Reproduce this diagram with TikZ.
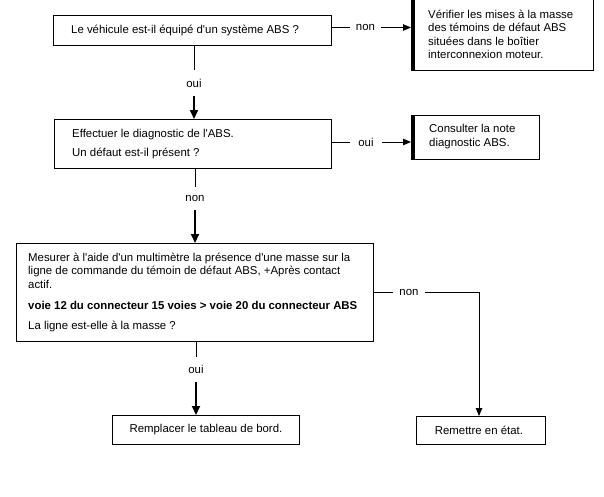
\documentclass[tikz,border=0pt]{standalone}
\usepackage{fontspec}
\setmainfont{Liberation Sans}[Ligatures=TeXOff]
\usetikzlibrary{arrows.meta}
\begin{document}
\begin{tikzpicture}[x=1pt,y=-1pt,
  every node/.style={font=\fontsize{11.4}{13.5}\selectfont},
  box/.style={draw, line width=0.9pt, inner sep=0pt, anchor=north west},
  txt/.style={anchor=west, align=left, inner sep=0pt},
  lab/.style={inner sep=0pt},
  thinline/.style={line width=0.9pt},
  thickarr/.style={line width=2pt, -{Triangle[length=9pt,width=8pt]}},
  thinarr/.style={line width=0.9pt, -{Triangle[length=8pt,width=6.5pt]}},
  sidebar/.style={line width=4pt}]
\useasboundingbox (0,0) rectangle (604,496);

% boxes
\node[box, minimum width=278pt, minimum height=30pt] (b1) at (53,15) {};
\node[txt] (t1) at ([xshift=18pt]b1.west) {Le véhicule est-il équipé d'un système ABS ?};

\node[box, minimum width=182pt, minimum height=72pt] (r1) at (411,-2) {};
\draw[sidebar] ([xshift=2pt]r1.north west) -- ([xshift=2pt]r1.south west);
\node[txt] (tr1) at ([xshift=17pt]r1.west) {Vérifier les mises à la masse\\des témoins de défaut ABS\\situées dans le boîtier\\interconnexion moteur.};

\node[box, minimum width=277pt, minimum height=49pt] (b2) at (54,119) {};
\node[txt] (t2) at ([xshift=18pt]b2.west) {Effectuer le diagnostic de l'ABS.\\[5.5pt]Un défaut est-il présent ?};

\node[box, minimum width=128pt, minimum height=44pt] (r2) at (411,115) {};
\draw[sidebar] ([xshift=2pt]r2.north west) -- ([xshift=2pt]r2.south west);
\node[txt] (tr2) at ([xshift=18pt,yshift=1pt]r2.west) {Consulter la note\\diagnostic ABS.};

\node[box, minimum width=357pt, minimum height=98pt] (b3) at (16,243) {};
\node[txt] (t3) at ([xshift=12pt]b3.west) {Mesurer à l'aide d'un multimètre la présence d'une masse sur la\\ligne de commande du témoin de défaut ABS, +Après contact\\actif.\\[8pt]\textbf{voie 12 du connecteur 15 voies > voie 20 du connecteur ABS}\\[6.5pt]La ligne est-elle à la masse ?};

\node[box, minimum width=187pt, minimum height=29pt] (b4) at (112,415) {};
\node (t4) at (b4.center) {Remplacer le tableau de bord.};

\node[box, minimum width=129pt, minimum height=28pt] (b5) at (416,416) {};
\node (t5) at ([xshift=-2pt]b5.center) {Remettre en état.};

% connectors
\node[lab, minimum height=26pt] (l1) at (194,83) {oui};
\draw[thinline] (b1.south -| l1) -- (l1.north);
\draw[thickarr] (l1.south) -- (b2.north -| l1);

\node[lab, minimum width=31pt] (l2) at (365.5,27.5) {non};
\draw[thinline] (b1.east |- l2) -- (l2.west);
\draw[thinarr] (l2.east) -- (r1.west |- l2);

\node[lab, minimum width=32pt] (l3) at (366,142) {oui};
\draw[thinline] (b2.east |- l3) -- (l3.west);
\draw[thinarr] (l3.east) -- (r2.west |- l3);

\node[lab, minimum height=23pt] (l4) at (195,198.5) {non};
\draw[thinline] (b2.south -| l4) -- (l4.north);
\draw[thickarr] (l4.south) -- (b3.north -| l4);

\node[lab, minimum height=25pt] (l5) at (196,369.5) {oui};
\draw[thinline] (b3.south -| l5) -- (l5.north);
\draw[thickarr] (l5.south) -- (b4.north -| l5);

\node[lab, minimum width=32pt] (l6) at (409,292) {non};
\coordinate (k) at (479,292);
\draw[thinline] (b3.east |- l6) -- (l6.west);
\draw[thinarr] (l6.east) -- (k) -- (k |- b5.north);
\end{tikzpicture}
\end{document}
